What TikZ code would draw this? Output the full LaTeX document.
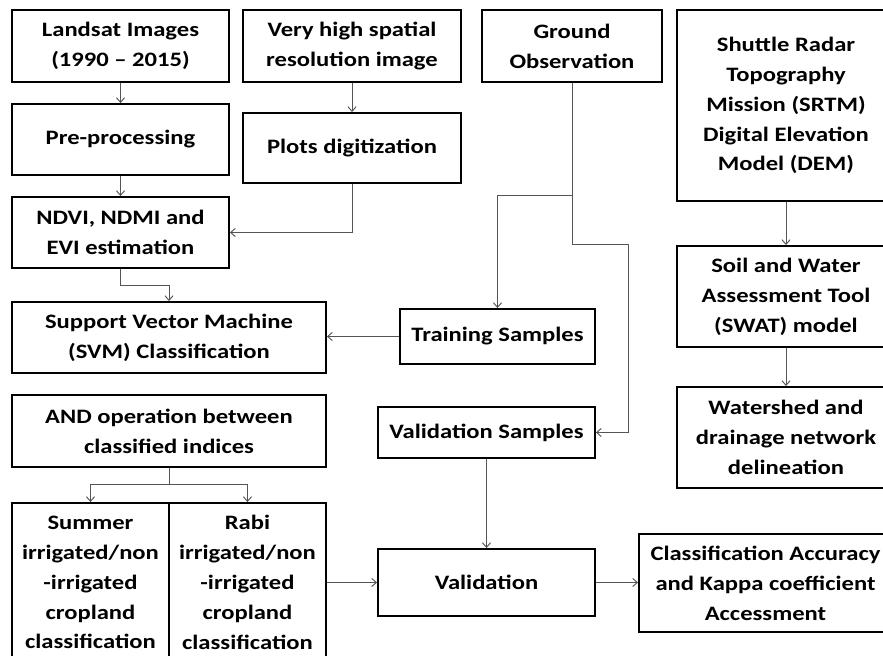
\documentclass[tikz,border=0pt]{standalone}
\usepackage{fontspec}
\setmainfont{Carlito}[FakeStretch=1.2]
\usepackage {tikz}
\usetikzlibrary {arrows.meta}
\definecolor {linkgray}{RGB}{85,85,85}

\begin{document}
\begin{tikzpicture}[x=0.03cm,y=-0.03cm,->,>={Straight Barb[length=4pt,width=7pt]}]
  \tikzstyle{block}=[rectangle, draw=black, line width=1.6pt, align=center,
font=\fontsize{17.5}{25.5}\selectfont\bfseries, inner sep=2pt]
  \tikzstyle{link}=[linkgray, line width=0.8pt]
  \useasboundingbox[fill=white] (0,0) rectangle (883,656);
  \clip (0,0) rectangle (883,656);

  \node[block, minimum width=6.51cm, minimum height=2.16cm] (landsat) at (120.5,46) {Landsat Images\\(1990 -- 2015)};
  \node[block, minimum width=6.54cm, minimum height=2.16cm] (vhr) at (352,46) {Very high spatial\\resolution image};
  \node[block, minimum width=6.51cm, minimum height=2.13cm] (prep) at (120.5,139.5) {Pre-processing};
  \node[block, minimum width=6.54cm, minimum height=2.1cm] (plots) at (352,148) {Plots digitization};
  \node[block, minimum width=6.51cm, minimum height=2.13cm] (indices) at (120.5,232.5) {NDVI, NDMI and\\EVI estimation};
  \node[block, minimum width=9.42cm, minimum height=2.13cm] (svm) at (169,337.5) {Support Vector Machine\\(SVM) Classification};
  \node[block, minimum width=9.42cm, minimum height=2.16cm] (andop) at (169,431) {AND operation between\\classified indices};
  \node[block, minimum width=4.71cm, minimum height=4.77cm] (summer) at (90.5,582.5) {Summer\\irrigated/non\\-irrigated\\cropland\\classification};
  \node[block, minimum width=4.71cm, minimum height=4.77cm] (rabi) at (247.5,582.5) {Rabi\\irrigated/non\\-irrigated\\cropland\\classification};
  \node[block, minimum width=5.4cm, minimum height=2.16cm] (ground) at (572,46) {Ground\\Observation};
  \node[block, minimum width=5.85cm, minimum height=1.65cm] (train) at (497.5,336.5) {Training Samples};
  \node[block, minimum width=6.51cm, minimum height=1.53cm] (valsamp) at (486.5,432.5) {Validation Samples};
  \node[block, minimum width=6.51cm, minimum height=2.01cm] (valid) at (486.5,582.5) {Validation};
  \node[block, minimum width=6.54cm, minimum height=5.73cm] (srtm) at (786,105.5) {Shuttle Radar\\Topography\\Mission (SRTM)\\Digital Elevation\\Model (DEM)};
  \node[block, minimum width=6.54cm, minimum height=3.03cm] (swat) at (786,296.5) {Soil and Water\\Assessment Tool\\(SWAT) model};
  \node[block, minimum width=6.54cm, minimum height=3.03cm] (shed) at (786,437.5) {Watershed and\\drainage network\\delineation};
  \node[block, minimum width=7.59cm, minimum height=2.94cm] (accuracy) at (765.5,583) {Classification Accuracy\\and Kappa coefficient\\Accessment};

  \coordinate (gsplit) at (572,195);
  \coordinate (gbend) at (628,244);

  \draw[link] (landsat) -- (prep);
  \draw[link] (vhr) -- (plots);
  \draw[link] (prep) -- (indices);
  \draw[link] (plots) |- (indices);
  \draw[link] (indices.south) -- ++(0,17) -| (svm.north);
  \draw[link] (train.west) -- (train.west -| svm.east);
  \draw[link] (ground.south) -- (gsplit) -| (train.north);
  \draw[link] (gsplit) -- (gsplit |- gbend) -- (gbend) |- (valsamp.east);
  \draw[link] (srtm) -- (swat);
  \draw[link] (swat) -- (shed);
  \draw[link] (andop.south) -- ++(0,17) -| (summer.north);
  \draw[link] (andop.south) -- ++(0,17) -| (rabi.north);
  \draw[link] (valsamp) -- (valid);
  \draw[link] (rabi.east |- valid.west) -- (valid.west);
  \draw[link] (valid.east) -- (valid.east -| accuracy.west);
\end{tikzpicture}
\end{document}
